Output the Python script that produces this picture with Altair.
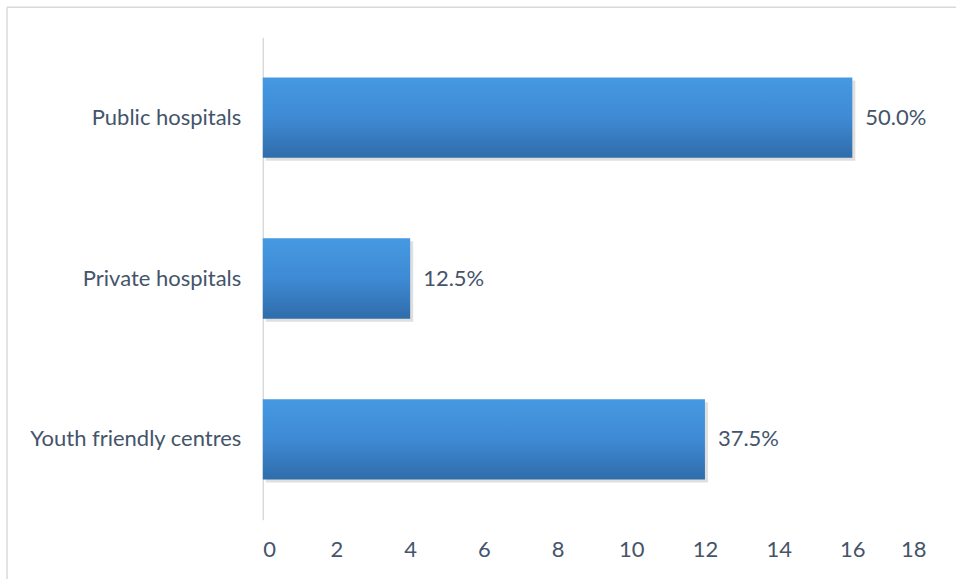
import altair as alt
import pandas as pd

categories = ["Public hospitals", "Private hospitals", "Youth friendly centres"]
values = [16, 4, 12]
labels = ["50.0%", "12.5%", "37.5%"]
x_ticks = [0, 2, 4, 6, 8, 10, 12, 14, 16, 18]

df = pd.DataFrame({"cat": categories, "val": values, "lab": labels})

FONT = "Lato"
FS = 22
TXT = "#44546A"

y_enc = alt.Y("cat:N", sort=categories, title=None,
              scale=alt.Scale(paddingInner=0.5, paddingOuter=0.25),
              axis=alt.Axis(ticks=False, domain=True, domainColor="#D9D9D9", domainWidth=1.5,
                            labelFont=FONT, labelFontSize=FS, labelColor=TXT, labelLimit=400,
                            labelPadding=22, grid=False))
x_enc = alt.X("val:Q", title=None,
              scale=alt.Scale(domain=[0, 18], nice=False),
              axis=alt.Axis(values=x_ticks, ticks=False, domain=False, grid=False,
                            labelFont=FONT, labelFontSize=FS, labelColor=TXT,
                            labelPadding=20))

base = alt.Chart(df)

shadow = base.mark_bar(color="#808080", opacity=0.25, xOffset=3, yOffset=3, clip=False).encode(
    x=x_enc, y=y_enc)

gradient = alt.Gradient(
    gradient="linear",
    stops=[alt.GradientStop(color="#4599E2", offset=0),
           alt.GradientStop(color="#3F8AD4", offset=0.5),
           alt.GradientStop(color="#2F6CAA", offset=1)],
    x1=0, x2=0, y1=0, y2=1)

bars = base.mark_bar(color=gradient).encode(x=x_enc, y=y_enc)

text = base.mark_text(align="left", baseline="middle", dx=13, font=FONT, fontSize=FS,
                      color=TXT).encode(x="val:Q", y=alt.Y("cat:N", sort=categories), text="lab:N")

border_left = alt.Chart().mark_rule(color="#D9D9D9", strokeWidth=1.5, clip=False).encode(
    x=alt.value(-256), y=alt.value(-30), y2=alt.value(620))
border_top = alt.Chart().mark_rule(color="#D9D9D9", strokeWidth=1.5, clip=False).encode(
    x=alt.value(-256), x2=alt.value(760), y=alt.value(-30))

chart = alt.layer(border_left, border_top, shadow, bars, text).properties(
    width=663.75, height=483,
    autosize=alt.AutoSizeParams(type="none"),
    padding={"left": 263, "top": 37, "right": 30, "bottom": 59},
    background="white",
).configure_view(stroke=None)

chart.save("out.html", embed_options={"renderer": "svg", "actions": False})
